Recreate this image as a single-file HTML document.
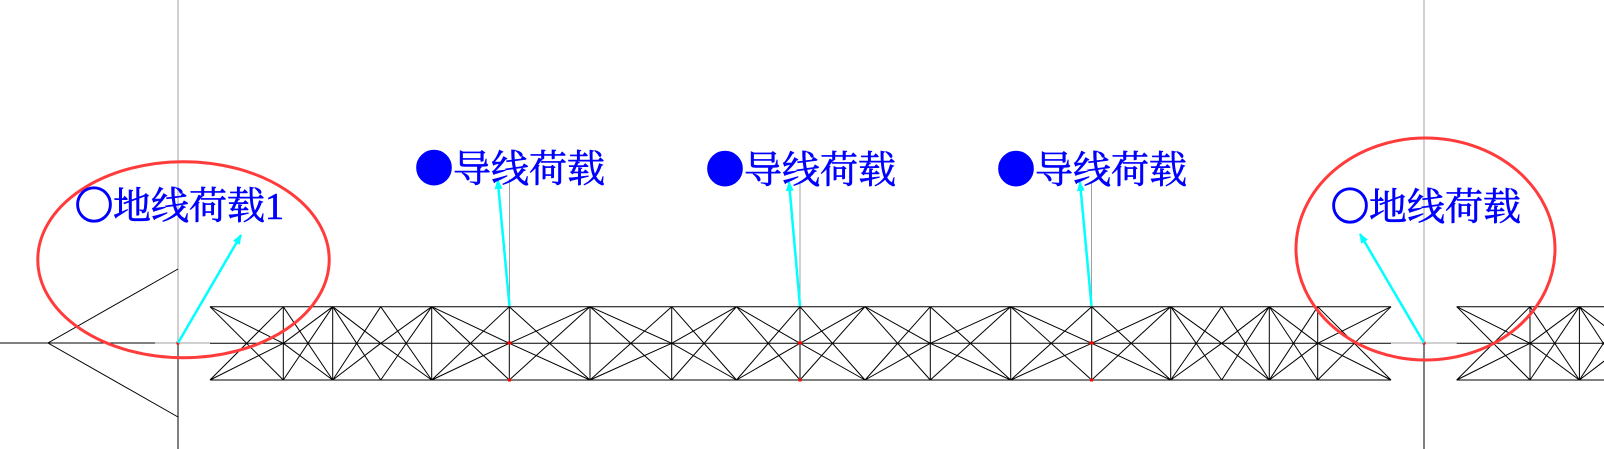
<!DOCTYPE html>
<html><head><meta charset="utf-8"><style>
html,body{margin:0;padding:0;background:#fff;width:1604px;height:449px;overflow:hidden}
svg{display:block}
text{font-family:"Liberation Serif","Noto Serif CJK SC",serif;font-size:38px;fill:#0000ff;stroke:#0000ff;stroke-width:0.6px}
.c{font-family:"Noto Sans CJK SC",sans-serif;stroke-width:1.5px}
</style></head><body>
<svg id="s" width="1604" height="449" viewBox="0 0 1604 449" xmlns="http://www.w3.org/2000/svg">
<defs>
<marker id="ah" markerWidth="10" markerHeight="8" refX="9" refY="4" orient="auto" markerUnits="userSpaceOnUse">
<path d="M0,0 L10,4 L0,8 Z" fill="#00ffff"/></marker>
</defs>
<g stroke="#a0a0a0" stroke-width="1">
<line x1="178" y1="0" x2="178" y2="343"/>
<line x1="1424" y1="0" x2="1424" y2="343"/>
<line x1="155" y1="343" x2="210" y2="343"/>
<line x1="1391" y1="343" x2="1457" y2="343"/>
<line x1="509.5" y1="179" x2="509.5" y2="306"/>
<line x1="800" y1="181" x2="800" y2="306"/>
<line x1="1091.5" y1="181" x2="1091.5" y2="306"/>
</g>
<g stroke="#000" stroke-width="1">
<line x1="0" y1="343" x2="155" y2="343"/>
<line x1="178" y1="343" x2="178" y2="449"/>
<line x1="1424" y1="343" x2="1424" y2="449"/>
<polyline points="178,269 48,343 178,417" fill="none"/>
</g>
<g id="truss" stroke="#000" stroke-width="1" fill="none"></g>
<g fill="#ff0000">
<rect x="176.5" y="341.5" width="3" height="3"/>
<rect x="1422.5" y="341.5" width="3" height="3"/>
<rect x="507.5" y="341.5" width="4" height="3"/>
<rect x="798" y="341.5" width="4" height="3"/>
<rect x="1089.5" y="341.5" width="4" height="3"/>
<rect x="508" y="378.5" width="3" height="3"/>
<rect x="798.5" y="378.5" width="3" height="3"/>
<rect x="1090" y="378.5" width="3" height="3"/>
</g>
<g stroke="#00ffff" stroke-width="2.5" marker-end="url(#ah)">
<line x1="178" y1="343" x2="241" y2="235"/>
<line x1="509.5" y1="306" x2="497.7" y2="180"/>
<line x1="800" y1="306" x2="789" y2="182"/>
<line x1="1091.5" y1="306" x2="1080" y2="182"/>
<line x1="1424" y1="343" x2="1360" y2="234"/>
</g>
<g stroke="#ff3b3b" stroke-width="3" fill="none">
<ellipse cx="183.5" cy="259.7" rx="145.7" ry="98"/>
<ellipse cx="1425.5" cy="249" rx="129.5" ry="111"/>
</g>
<text x="75" y="219"><tspan class="c">○</tspan>地线荷载1</text>
<text x="415" y="182"><tspan class="c">●</tspan>导线荷载</text>
<text x="706" y="183"><tspan class="c">●</tspan>导线荷载</text>
<text x="997" y="183"><tspan class="c">●</tspan>导线荷载</text>
<text x="1331" y="220"><tspan class="c">○</tspan>地线荷载</text>
</svg>
<script>
(function(){
var g=document.getElementById('truss');
var T=306.7,M=343.3,B=380;
var st=[210,283.3,332.7,380.7,431.7,509.3,590,671.7,736.5,800,865,930.3,1010.7,1091.7,1170.7,1221.7,1269.3,1317.7,1391];
var vert={283.3:1,332.7:1,431.7:1,509.3:1,590:1,671.7:1,800:1,930.3:1,1010.7:1,1091.7:1,1170.7:1,1269.3:1,1317.7:1};
var ns='http://www.w3.org/2000/svg';
function L(a,b,c,d){var l=document.createElementNS(ns,'line');l.setAttribute('x1',a);l.setAttribute('y1',b);l.setAttribute('x2',c);l.setAttribute('y2',d);g.appendChild(l);}
function truss(off,maxX){
 var s=st.map(function(x){return x+off;});
 var x0=s[0],x1=Math.min(s[s.length-1],maxX);
 L(x0,T,x1,T);L(x0,M,x1,M);L(x0,B,x1,B);
 for(var i=0;i<st.length;i++){ if(vert[st[i]]) L(s[i],T,s[i],B); }
 for(var i=0;i<s.length-1;i++){
  var a=s[i],b=s[i+1];
  L(a,T,b,B);L(a,B,b,T);
  if(i%2==0){L(a,T,b,M);L(a,B,b,M);}else{L(a,M,b,T);L(a,M,b,B);}
 }
}
truss(0,1391);
truss(1246.7,1700);
})();
</script>
</body></html>
